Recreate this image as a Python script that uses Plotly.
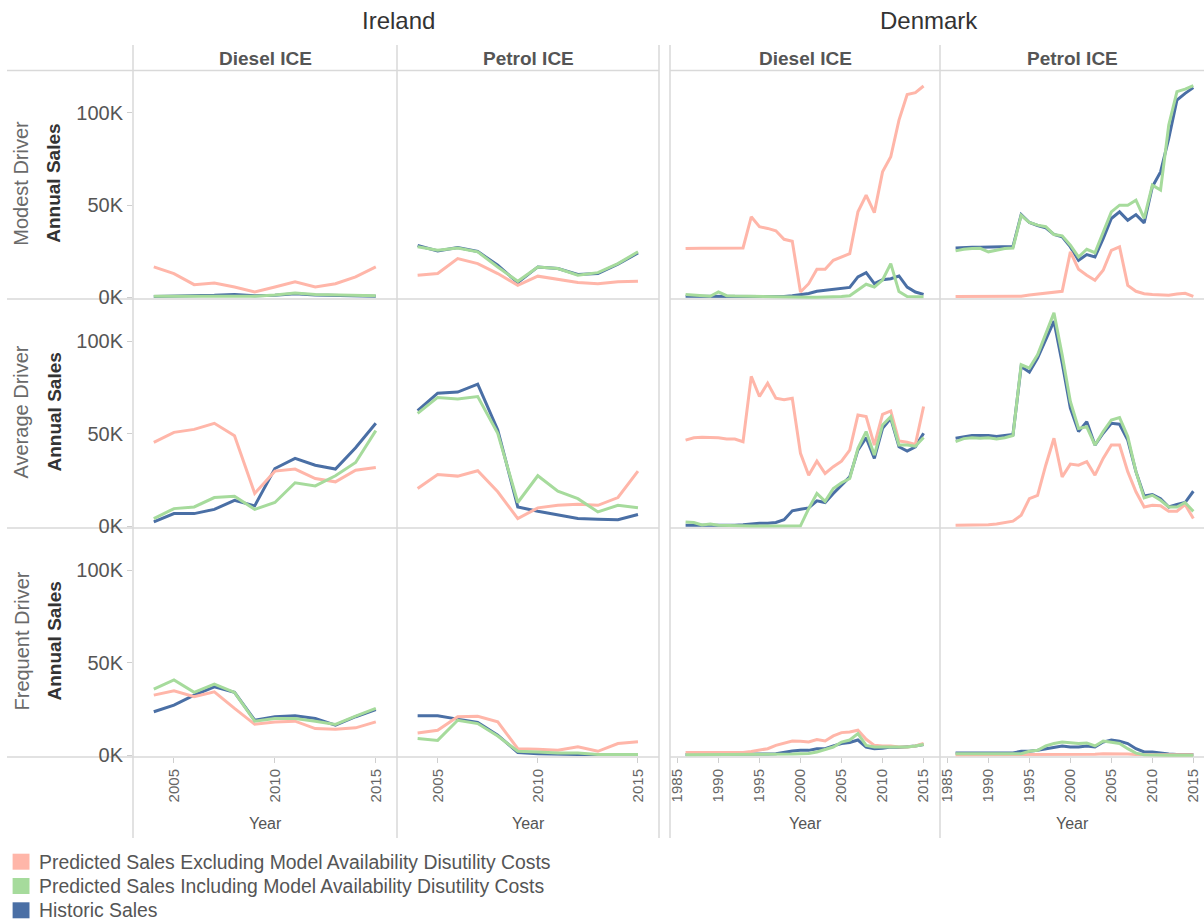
import plotly.graph_objects as go

# ---------------- data ----------------
years_ie = [2004, 2005, 2006, 2007, 2008, 2009, 2010, 2011, 2012, 2013, 2014, 2015]
years_dk = [1986, 1987, 1988, 1989, 1990, 1991, 1992, 1993, 1994, 1995,
            1996, 1997, 1998, 1999, 2000, 2001, 2002, 2003, 2004, 2005,
            2006, 2007, 2008, 2009, 2010, 2011, 2012, 2013, 2014, 2015]

countries = ["Ireland", "Denmark"]
fuels = ["Diesel ICE", "Petrol ICE"]
drivers = ["Modest Driver", "Average Driver", "Frequent Driver"]
series_names = ["Predicted Sales Excluding Model Availability Disutility Costs",
                "Predicted Sales Including Model Availability Disutility Costs",
                "Historic Sales"]
y_tick_vals = [0, 50000, 100000]
y_tick_text = ["0K", "50K", "100K"]
x_ticks_ie = [2005, 2010, 2015]
x_ticks_dk = [1985, 1990, 1995, 2000, 2005, 2010, 2015]

# Ireland - Modest
ie_mod_dsl_excl = [16400, 12800, 6800, 7700, 5500, 2800, 5500, 8300, 5500, 7300, 11000, 16400]
ie_mod_dsl_incl = [500, 500, 500, 800, 800, 500, 1200, 2200, 1500, 1200, 1000, 800]
ie_mod_dsl_hist = [300, 500, 800, 1000, 1500, 800, 1000, 1800, 1200, 1000, 800, 500]
ie_mod_pet_excl = [11900, 12800, 20900, 18200, 12800, 6400, 11400, 9500, 7900, 7300, 8300, 8600]
ie_mod_pet_incl = [27300, 25400, 26700, 24600, 16400, 8600, 16400, 15500, 11900, 13300, 18200, 24600]
ie_mod_pet_hist = [28000, 25100, 26900, 24800, 17300, 7900, 16400, 15500, 12300, 12800, 17900, 24000]
# Ireland - Average
ie_avg_dsl_excl = [45400, 50800, 52400, 55700, 49000, 17700, 29800, 30900, 25800, 24000, 30300, 31800]
ie_avg_dsl_incl = [4100, 9500, 10400, 15500, 16200, 9100, 12800, 23500, 21800, 27300, 34500, 51700]
ie_avg_dsl_hist = [2300, 6800, 6800, 9100, 14000, 11000, 31200, 36700, 33000, 30900, 42500, 55700]
ie_avg_pet_excl = [20400, 28000, 27100, 30000, 18600, 4100, 9900, 11300, 11900, 11300, 15500, 29800]
ie_avg_pet_incl = [61100, 69700, 68900, 70200, 50300, 12800, 27300, 18900, 14900, 7700, 11300, 10000]
ie_avg_pet_hist = [62600, 72000, 72600, 76900, 52100, 10400, 8100, 5900, 4100, 3700, 3500, 6300]
# Ireland - Frequent
ie_frq_dsl_excl = [32500, 34900, 31600, 34300, 25300, 16700, 18000, 18400, 14400, 14000, 14800, 18000]
ie_frq_dsl_incl = [35800, 40700, 34000, 38500, 34000, 18400, 19800, 19800, 18400, 16600, 21100, 25300]
ie_frq_dsl_hist = [23500, 27100, 32500, 37000, 34000, 18900, 20800, 21300, 19800, 16200, 20800, 24700]
ie_frq_pet_excl = [12000, 13500, 20800, 21100, 18000, 3500, 3200, 2700, 4500, 2100, 6300, 7200]
ie_frq_pet_incl = [9000, 8000, 18900, 17100, 10400, 2100, 1700, 1100, 1100, 400, 400, 400]
ie_frq_pet_hist = [21300, 21300, 19500, 17700, 10800, 1400, 800, 400, 300, 300, 300, 400]

# Denmark - Modest
dk_mod_dsl_excl = [26400, 26600, 26600, 26500, 26500, 26400, 26400, 26700, 43600, 38200,
                   37300, 36000, 31400, 30300, 2800, 7300, 15100, 15100, 20000, 21800,
                   23600, 46300, 55300, 45900, 68000, 76200, 96100, 110000, 111000, 114600]
dk_mod_dsl_incl = [1400, 1000, 800, 500, 2800, 800, 600, 500, 400, 300,
                   200, 100, 0, 0, 0, 0, 0, 0, 100, 300,
                   800, 4000, 7000, 5500, 9300, 18200, 3000, 300, 200, 200]
dk_mod_dsl_hist = [500, 500, 300, 300, 300, 300, 200, 200, 200, 200,
                   200, 200, 300, 800, 1400, 2000, 3200, 3700, 4300, 5000,
                   5300, 11000, 13300, 7300, 9500, 10000, 11500, 5500, 2800, 1500]
dk_mod_pet_excl = [300, 300, 300, 300, 300, 400, 400, 500, 500, 1200,
                   1600, 2000, 2700, 3200, 24600, 15100, 11900, 9200, 14600, 25400,
                   27300, 6400, 3200, 1900, 1500, 1300, 1000, 1700, 2100, 400]
dk_mod_pet_incl = [25100, 26000, 26400, 26500, 24600, 25500, 26400, 26700, 44400, 40500,
                   39100, 38200, 34000, 33300, 28200, 21800, 26000, 24100, 35400, 46300,
                   49900, 49900, 52600, 42700, 60800, 58100, 93400, 111500, 112900, 114800]
dk_mod_pet_hist = [26700, 27000, 27100, 27100, 27200, 27200, 27300, 27500, 44800, 40500,
                   38900, 37600, 34000, 32700, 27300, 20000, 23100, 21800, 31800, 42700,
                   46300, 41700, 44800, 40300, 59900, 68000, 86100, 107000, 110600, 113700]
# Denmark - Average
dk_avg_dsl_excl = [46600, 47900, 48100, 48100, 47900, 47200, 47200, 45700, 81100, 70200,
                   77400, 69300, 68400, 69300, 39400, 27600, 35200, 28500, 32200, 35200,
                   41200, 60200, 59300, 43900, 60600, 62400, 46100, 45400, 44300, 64800]
dk_avg_dsl_incl = [2300, 2000, 600, 1100, 500, 300, 200, 100, 100, 100,
                   100, 100, 200, 500, 200, 9500, 17700, 13400, 20400, 23500,
                   25800, 42100, 51200, 38500, 54800, 59300, 43900, 43900, 43300, 48000]
dk_avg_dsl_hist = [500, 500, 300, 300, 200, 300, 500, 800, 1300, 1600,
                   1600, 2000, 3500, 8300, 9200, 9900, 13700, 12800, 17700, 22200,
                   26700, 41200, 47900, 36700, 53000, 58400, 43000, 40700, 43000, 50300]
dk_avg_pet_excl = [500, 500, 600, 700, 800, 1200, 1800, 2700, 5900, 14900,
                   16700, 33000, 47600, 26700, 33600, 33000, 34900, 27600, 36700, 43900,
                   43900, 29500, 18600, 10400, 11300, 11000, 8100, 8100, 11700, 4100]
dk_avg_pet_incl = [45800, 47400, 47900, 47600, 47900, 47200, 47900, 49100, 87400, 85600,
                   92800, 103700, 115500, 92800, 67500, 52900, 53800, 43900, 51200, 57500,
                   58800, 48500, 29500, 15300, 16700, 14000, 10400, 10400, 12800, 8000]
dk_avg_pet_hist = [47600, 48500, 49100, 49100, 49100, 48500, 48900, 49600, 86500, 83400,
                   91000, 101000, 111000, 88300, 63900, 51200, 56600, 43900, 50300, 55700,
                   55200, 46600, 29500, 16400, 17100, 14900, 10400, 11700, 12800, 18900]
# Denmark - Frequent
dk_frq_dsl_excl = [1400, 1400, 1400, 1400, 1400, 1400, 1400, 1500, 2000, 2600,
                   3500, 5300, 6600, 7700, 7500, 7100, 8400, 7700, 10400, 12200,
                   12500, 13500, 8600, 5300, 5000, 5000, 4400, 4400, 5000, 6300]
dk_frq_dsl_incl = [200, 200, 200, 200, 200, 200, 200, 200, 200, 200,
                   200, 200, 200, 600, 800, 900, 1700, 3000, 4400, 7100,
                   8200, 11700, 5300, 4400, 4400, 4400, 4100, 4400, 5000, 5800]
dk_frq_dsl_hist = [300, 300, 300, 300, 300, 300, 300, 300, 300, 300,
                   600, 800, 1700, 2300, 2600, 2600, 3500, 3500, 5000, 6300,
                   6900, 8200, 4400, 3500, 3800, 4400, 4100, 4400, 5000, 5800]
dk_frq_pet_excl = [200, 200, 200, 200, 200, 200, 200, 200, 200, 200,
                   200, 200, 200, 200, 200, 300, 300, 500, 700, 800,
                   800, 600, 300, 200, 200, 200, 200, 200, 200, 200]
dk_frq_pet_incl = [800, 800, 800, 800, 800, 800, 800, 800, 800, 2100,
                   2600, 5000, 6300, 7100, 6600, 6300, 6600, 5000, 7600, 7100,
                   6300, 3500, 1100, 200, 0, 0, 0, 0, 0, 0]
dk_frq_pet_hist = [1200, 1200, 1200, 1200, 1200, 1200, 1200, 1200, 2100, 2100,
                   2600, 3500, 4400, 5000, 4400, 4400, 5000, 4400, 7100, 8200,
                   7600, 6300, 3500, 1700, 1700, 1100, 600, 400, 400, 400]

# panel data: [row][col] -> (years, excl, incl, hist)
panels = [
    [(years_ie, ie_mod_dsl_excl, ie_mod_dsl_incl, ie_mod_dsl_hist),
     (years_ie, ie_mod_pet_excl, ie_mod_pet_incl, ie_mod_pet_hist),
     (years_dk, dk_mod_dsl_excl, dk_mod_dsl_incl, dk_mod_dsl_hist),
     (years_dk, dk_mod_pet_excl, dk_mod_pet_incl, dk_mod_pet_hist)],
    [(years_ie, ie_avg_dsl_excl, ie_avg_dsl_incl, ie_avg_dsl_hist),
     (years_ie, ie_avg_pet_excl, ie_avg_pet_incl, ie_avg_pet_hist),
     (years_dk, dk_avg_dsl_excl, dk_avg_dsl_incl, dk_avg_dsl_hist),
     (years_dk, dk_avg_pet_excl, dk_avg_pet_incl, dk_avg_pet_hist)],
    [(years_ie, ie_frq_dsl_excl, ie_frq_dsl_incl, ie_frq_dsl_hist),
     (years_ie, ie_frq_pet_excl, ie_frq_pet_incl, ie_frq_pet_hist),
     (years_dk, dk_frq_dsl_excl, dk_frq_dsl_incl, dk_frq_dsl_hist),
     (years_dk, dk_frq_pet_excl, dk_frq_pet_incl, dk_frq_pet_hist)],
]

# ---------------- styling / layout ----------------
W, H = 1204, 924
FONT = "Liberation Sans, Arial, sans-serif"
C_EXCL = "#FFB6A9"
C_INCL = "#A6DB9C"
C_HIST = "#4A6FA5"
GRID = "#D9D9D9"

col_px = [(133, 397), (397, 659), (670, 940), (940, 1204)]
row_px = [(70.5, 299), (299, 528), (528, 757)]
x_ranges = [[2002.97, 2016.05], [2002.97, 2016.05], [1984.1, 2017.0], [1984.1, 2016.3]]
y_range = [-1000, 123000]


def px(x):
    return x / W


def py(y):
    return 1 - y / H


fig = go.Figure()
layout = {}
for r in range(3):
    for c in range(4):
        idx = r * 4 + c + 1
        sfx = "" if idx == 1 else str(idx)
        yrs, excl, incl, hist = panels[r][c]
        for vals, col in ((hist, C_HIST), (excl, C_EXCL), (incl, C_INCL)):
            fig.add_trace(go.Scatter(
                x=yrs, y=vals, mode="lines",
                line=dict(color=col, width=3),
                xaxis="x" + sfx, yaxis="y" + sfx,
                showlegend=False, hoverinfo="skip"))
        bottom = (r == 2)
        xa = dict(domain=[px(col_px[c][0]), px(col_px[c][1])],
                  range=x_ranges[c], anchor="y" + sfx,
                  showgrid=False, zeroline=False, showline=False,
                  automargin=False, fixedrange=True)
        if bottom:
            xa.update(tickmode="array",
                      tickvals=x_ticks_ie if c < 2 else x_ticks_dk,
                      ticks="outside", ticklen=5, tickcolor="#CFCFCF",
                      tickangle=-90,
                      tickfont=dict(family=FONT, size=15, color="#666666"))
        else:
            xa.update(showticklabels=False, ticks="")
        ya = dict(domain=[py(row_px[r][1]), py(row_px[r][0])],
                  range=y_range, anchor="x" + sfx,
                  showgrid=False, zeroline=False, showline=False,
                  automargin=False, fixedrange=True)
        if c == 0:
            ya.update(tickmode="array", tickvals=y_tick_vals, ticktext=y_tick_text,
                      ticks="outside", ticklen=5, tickcolor="#CFCFCF",
                      tickfont=dict(family=FONT, size=20, color="#555555"))
        else:
            ya.update(showticklabels=False, ticks="")
        layout["xaxis" + sfx] = xa
        layout["yaxis" + sfx] = ya

shapes = []


def hline(y, x0, x1):
    shapes.append(dict(type="line", xref="paper", yref="paper",
                       x0=px(x0), x1=px(x1), y0=py(y), y1=py(y),
                       line=dict(color=GRID, width=1.5), layer="below"))


def vline(x, y0, y1):
    shapes.append(dict(type="line", xref="paper", yref="paper",
                       x0=px(x), x1=px(x), y0=py(y0), y1=py(y1),
                       line=dict(color=GRID, width=1.5), layer="below"))


for y in (70.5, 299, 528, 757):
    hline(y, 7, 659)
    hline(y, 670, 1204)
for x in (133, 397, 659, 670, 940):
    vline(x, 45, 838)

annotations = []


def text(t, x, y, size, color, xanchor="center", angle=0, bold=False):
    annotations.append(dict(
        text=("<b>%s</b>" % t) if bold else t, x=px(x), y=py(y),
        xref="paper", yref="paper", showarrow=False,
        xanchor=xanchor, yanchor="middle", textangle=angle,
        font=dict(family=FONT, size=size, color=color)))


# country headers
text(countries[0], 398, 20, 24, "#333333")
text(countries[1], 929, 20, 24, "#333333")
# fuel headers
for c in range(4):
    text(fuels[c % 2], (col_px[c][0] + col_px[c][1]) / 2, 58, 19, "#555555", bold=True)
# row headers
for r in range(3):
    cy = (row_px[r][0] + row_px[r][1]) / 2 - 1
    text(drivers[r], 21, cy, 20, "#6A6A6A", angle=-90)
    text("Annual Sales", 54, cy, 19, "#333333", angle=-90, bold=True)
# x axis titles
for c in range(4):
    text("Year", (col_px[c][0] + col_px[c][1]) / 2, 823, 16, "#555555")

# legend
leg_y = [861.7, 886, 910.3]
for name, col, ly in zip(series_names, (C_EXCL, C_INCL, C_HIST), leg_y):
    shapes.append(dict(type="rect", xref="paper", yref="paper",
                       x0=px(12.6), x1=px(29.5), y0=py(ly + 8), y1=py(ly - 8),
                       line=dict(width=0), fillcolor=col))
    text(name, 37, ly, 19.4, "#555555", xanchor="left")

fig.update_layout(
    width=W, height=H, autosize=False,
    margin=dict(l=0, r=0, t=0, b=0, pad=0, autoexpand=False),
    paper_bgcolor="white", plot_bgcolor="white",
    shapes=shapes, annotations=annotations,
    showlegend=False,
    font=dict(family=FONT),
    **layout)

post = (
    "document.documentElement.style.margin='0';"
    "document.body.style.margin='0';"
    "document.documentElement.style.overflow='hidden';"
    "document.body.style.overflow='hidden';"
)
fig.write_html("out.html", config={"displayModeBar": False}, post_script=post)
